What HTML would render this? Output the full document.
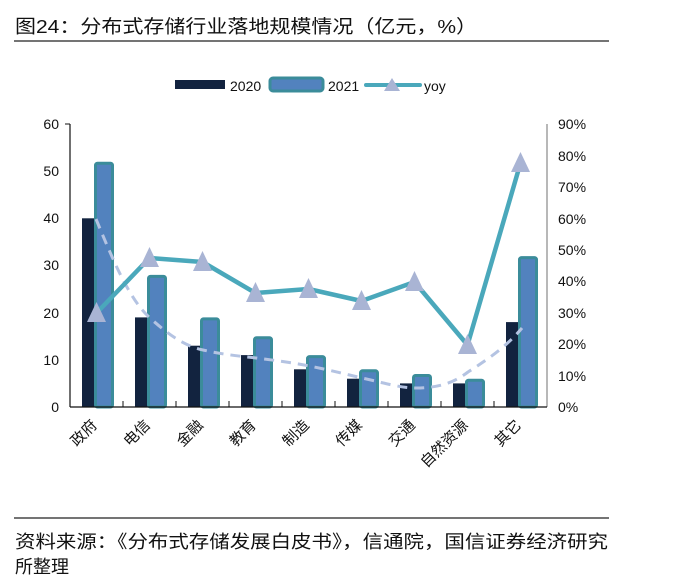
<!DOCTYPE html>
<html><head><meta charset="utf-8"><style>
body{margin:0;background:#fff;}
svg{display:block;}
text{font-family:"Liberation Sans","Noto Sans CJK SC",sans-serif;}
</style></head><body>
<svg width="699" height="582" viewBox="0 0 699 582" xmlns="http://www.w3.org/2000/svg">
<text x="15" y="33" font-size="18.5" fill="#111" font-family="'Noto Sans CJK SC',sans-serif" textLength="462" lengthAdjust="spacingAndGlyphs">图24：分布式存储行业落地规模情况（亿元，%）</text>
<line x1="14" y1="41" x2="609" y2="41" stroke="#222" stroke-width="1.3"/>
<!-- legend -->
<rect x="175" y="80" width="50" height="9" fill="#12233f"/>
<text x="230" y="91" font-size="14" fill="#111">2020</text>
<rect x="270" y="78" width="53" height="13" rx="3" fill="#5282be" stroke="#3b8c9a" stroke-width="3"/>
<text x="328" y="91" font-size="14" fill="#111">2021</text>
<line x1="366" y1="85" x2="420" y2="85" stroke="#4aa8bb" stroke-width="4" stroke-linecap="round"/>
<polygon points="392,78 400,91 384,91" fill="#a9b4d4"/>
<text x="424" y="91" font-size="14" fill="#111">yoy</text>
<!-- axes -->
<g font-size="14" fill="#111">
<text x="59" y="129" text-anchor="end">60</text>
<text x="59" y="176" text-anchor="end">50</text>
<text x="59" y="223" text-anchor="end">40</text>
<text x="59" y="270" text-anchor="end">30</text>
<text x="59" y="318" text-anchor="end">20</text>
<text x="59" y="365" text-anchor="end">10</text>
<text x="59" y="412" text-anchor="end">0</text>
</g>
<g font-size="14" fill="#111">
<text x="558" y="129">90%</text>
<text x="558" y="161">80%</text>
<text x="558" y="192">70%</text>
<text x="558" y="224">60%</text>
<text x="558" y="255">50%</text>
<text x="558" y="286">40%</text>
<text x="558" y="318">30%</text>
<text x="558" y="349">20%</text>
<text x="558" y="381">10%</text>
<text x="558" y="412">0%</text>
</g>
<line x1="70" y1="124" x2="70" y2="407" stroke="#111" stroke-width="1.2"/>
<line x1="65" y1="124" x2="70" y2="124" stroke="#111"/>
<line x1="547" y1="124" x2="547" y2="407" stroke="#888" stroke-width="1.2"/>
<!-- bars 2020 -->
<g fill="#12233f">
<rect x="82" y="218.3" width="13" height="188.7"/>
<rect x="135" y="317.4" width="13" height="89.6"/>
<rect x="188" y="345.7" width="13" height="61.3"/>
<rect x="241" y="355.1" width="13" height="51.9"/>
<rect x="294" y="369.3" width="13" height="37.7"/>
<rect x="347" y="378.7" width="13" height="28.3"/>
<rect x="400" y="383.4" width="13" height="23.6"/>
<rect x="453" y="383.4" width="13" height="23.6"/>
<rect x="506" y="322.1" width="13" height="84.9"/>
</g>
<!-- bars 2021 -->
<g fill="#5282be" stroke="#3b8c9a" stroke-width="3">
<rect x="95.5" y="163.2" width="17" height="243.8" rx="2"/>
<rect x="148.5" y="276.4" width="17" height="130.6" rx="2"/>
<rect x="201.5" y="318.9" width="17" height="88.1" rx="2"/>
<rect x="254.5" y="337.7" width="17" height="69.3" rx="2"/>
<rect x="307.5" y="356.6" width="17" height="50.4" rx="2"/>
<rect x="360.5" y="370.8" width="17" height="36.2" rx="2"/>
<rect x="413.5" y="375.5" width="17" height="31.5" rx="2"/>
<rect x="466.5" y="380.2" width="17" height="26.8" rx="2"/>
<rect x="519.5" y="257.6" width="17" height="149.4" rx="2"/>
</g>
<g stroke="#111">
<line x1="123" y1="401" x2="123" y2="407"/><line x1="176" y1="401" x2="176" y2="407"/>
<line x1="229" y1="401" x2="229" y2="407"/><line x1="282" y1="401" x2="282" y2="407"/>
<line x1="335" y1="401" x2="335" y2="407"/><line x1="388" y1="401" x2="388" y2="407"/>
<line x1="441" y1="401" x2="441" y2="407"/><line x1="494" y1="401" x2="494" y2="407"/>
</g>
<line x1="70" y1="407" x2="547" y2="407" stroke="#111" stroke-width="1.3"/>
<!-- dashed trend -->
<path d="M96,219 C115,265 130,300 150,318 C170,336 185,346 203,350 C225,355 240,356 256,358 C280,361 295,363 309,366 C330,370 345,374 362,378 C385,383 400,388 416,388 C440,388 455,382 468,372 C490,358 508,345 522,328" fill="none" stroke="#b4c3e2" stroke-width="3" stroke-dasharray="10,7"/>
<!-- yoy line -->
<polyline points="96.5,313 149.5,258 202.5,262 255.5,293 308.5,289 361.5,301 414.5,282 467.5,345 520.5,163" fill="none" stroke="#4aa8bb" stroke-width="4.5" stroke-linejoin="round"/>
<g fill="#a9b4d4">
<polygon points="96.5,302 106,322 87,322"/>
<polygon points="149.5,247 159,267 140,267"/>
<polygon points="202.5,251 212,271 193,271"/>
<polygon points="255.5,282 265,302 246,302"/>
<polygon points="308.5,278 318,298 299,298"/>
<polygon points="361.5,290 371,310 352,310"/>
<polygon points="414.5,271 424,291 405,291"/>
<polygon points="467.5,334 477,354 458,354"/>
<polygon points="520.5,152 530,172 511,172"/>
</g>
<!-- x labels -->
<g font-size="15" fill="#111" text-anchor="end" font-family="'Noto Sans CJK SC',sans-serif">
<text transform="translate(98,426) rotate(-45)">政府</text>
<text transform="translate(151,426) rotate(-45)">电信</text>
<text transform="translate(204,426) rotate(-45)">金融</text>
<text transform="translate(257,426) rotate(-45)">教育</text>
<text transform="translate(310,426) rotate(-45)">制造</text>
<text transform="translate(363,426) rotate(-45)">传媒</text>
<text transform="translate(416,426) rotate(-45)">交通</text>
<text transform="translate(469,426) rotate(-45)">自然资源</text>
<text transform="translate(522,426) rotate(-45)">其它</text>
</g>
<line x1="14" y1="518" x2="609" y2="518" stroke="#222" stroke-width="1.3"/>
<g font-size="18" fill="#111" font-family="'Noto Sans CJK SC',sans-serif">
<text x="15" y="548" textLength="593" lengthAdjust="spacingAndGlyphs">资料来源：《分布式存储发展白皮书》，信通院，国信证券经济研究</text>
<text x="15" y="573">所整理</text>
</g>
</svg>
</body></html>
